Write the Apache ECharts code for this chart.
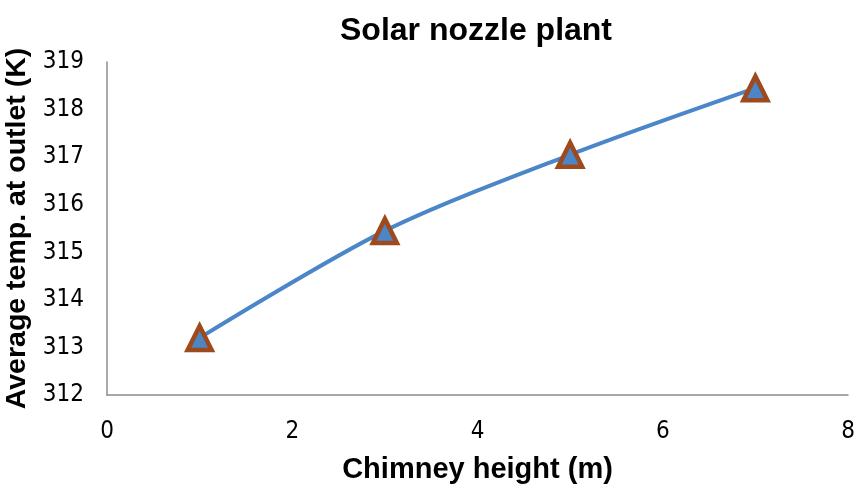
<!DOCTYPE html>
<html>
<head>
<meta charset="utf-8">
<script src="https://cdn.jsdelivr.net/npm/echarts@6/dist/echarts.min.js"></script>
<style>
  html, body { margin: 0; padding: 0; background: #fff; }
  #chart { width: 856px; height: 494px; }
</style>
</head>
<body>
<div id="chart"></div>
<script>
// Chimney height (m) vs. average outlet temperature (K)
const chimneyHeight = [1, 3, 5, 7];
const outletTemp = [313.2, 315.45, 317.05, 318.45];
const xTicks = [0, 2, 4, 6, 8];
const yTicks = [312, 313, 314, 315, 316, 317, 318, 319];

const tickFont = '"DejaVu Sans Condensed", "Open Sans", sans-serif';
const titleFont = '"Liberation Sans", Arial, sans-serif';

const chart = echarts.init(document.getElementById('chart'));
chart.setOption({
  animation: false,
  backgroundColor: '#ffffff',
  title: {
    text: 'Solar nozzle plant',
    left: 471,
    textAlign: 'center',
    top: 10,
    textStyle: { fontFamily: titleFont, fontWeight: 'bold', fontSize: 32, color: '#000' }
  },
  grid: { left: 107, right: 8, top: 62, bottom: 99, containLabel: false, outerBoundsMode: 'none' },
  xAxis: {
    type: 'value',
    min: xTicks[0],
    max: xTicks[xTicks.length - 1],
    interval: 2,
    name: 'Chimney height (m)',
    nameLocation: 'middle',
    nameGap: 60,
    nameTextStyle: { fontFamily: titleFont, fontWeight: 'bold', fontSize: 29, color: '#000' },
    axisLine: { show: true, lineStyle: { color: '#8c8c8c', width: 1.5 } },
    axisTick: { show: false },
    splitLine: { show: false },
    axisLabel: { margin: 25, fontFamily: tickFont, fontSize: 24, color: '#000' }
  },
  yAxis: {
    type: 'value',
    min: yTicks[0],
    max: yTicks[yTicks.length - 1],
    interval: 1,
    name: 'Average temp. at outlet (K)',
    nameLocation: 'middle',
    nameGap: 72,
    nameTextStyle: { fontFamily: titleFont, fontWeight: 'bold', fontSize: 28.5, color: '#000' },
    axisLine: { show: true, lineStyle: { color: '#8c8c8c', width: 1.5 } },
    axisTick: { show: false },
    splitLine: { show: false },
    axisLabel: { margin: 23, fontFamily: tickFont, fontSize: 24, color: '#000' }
  },
  series: [{
    type: 'line',
    data: chimneyHeight.map((h, i) => [h, outletTemp[i]]),
    smooth: 0.3,
    lineStyle: { color: '#4a86c8', width: 4 },
    symbol: 'triangle',
    symbolSize: 24,
    itemStyle: { color: '#4a86c8', borderColor: '#9e4a1c', borderWidth: 4.5 }
  }]
});
</script>
</body>
</html>
